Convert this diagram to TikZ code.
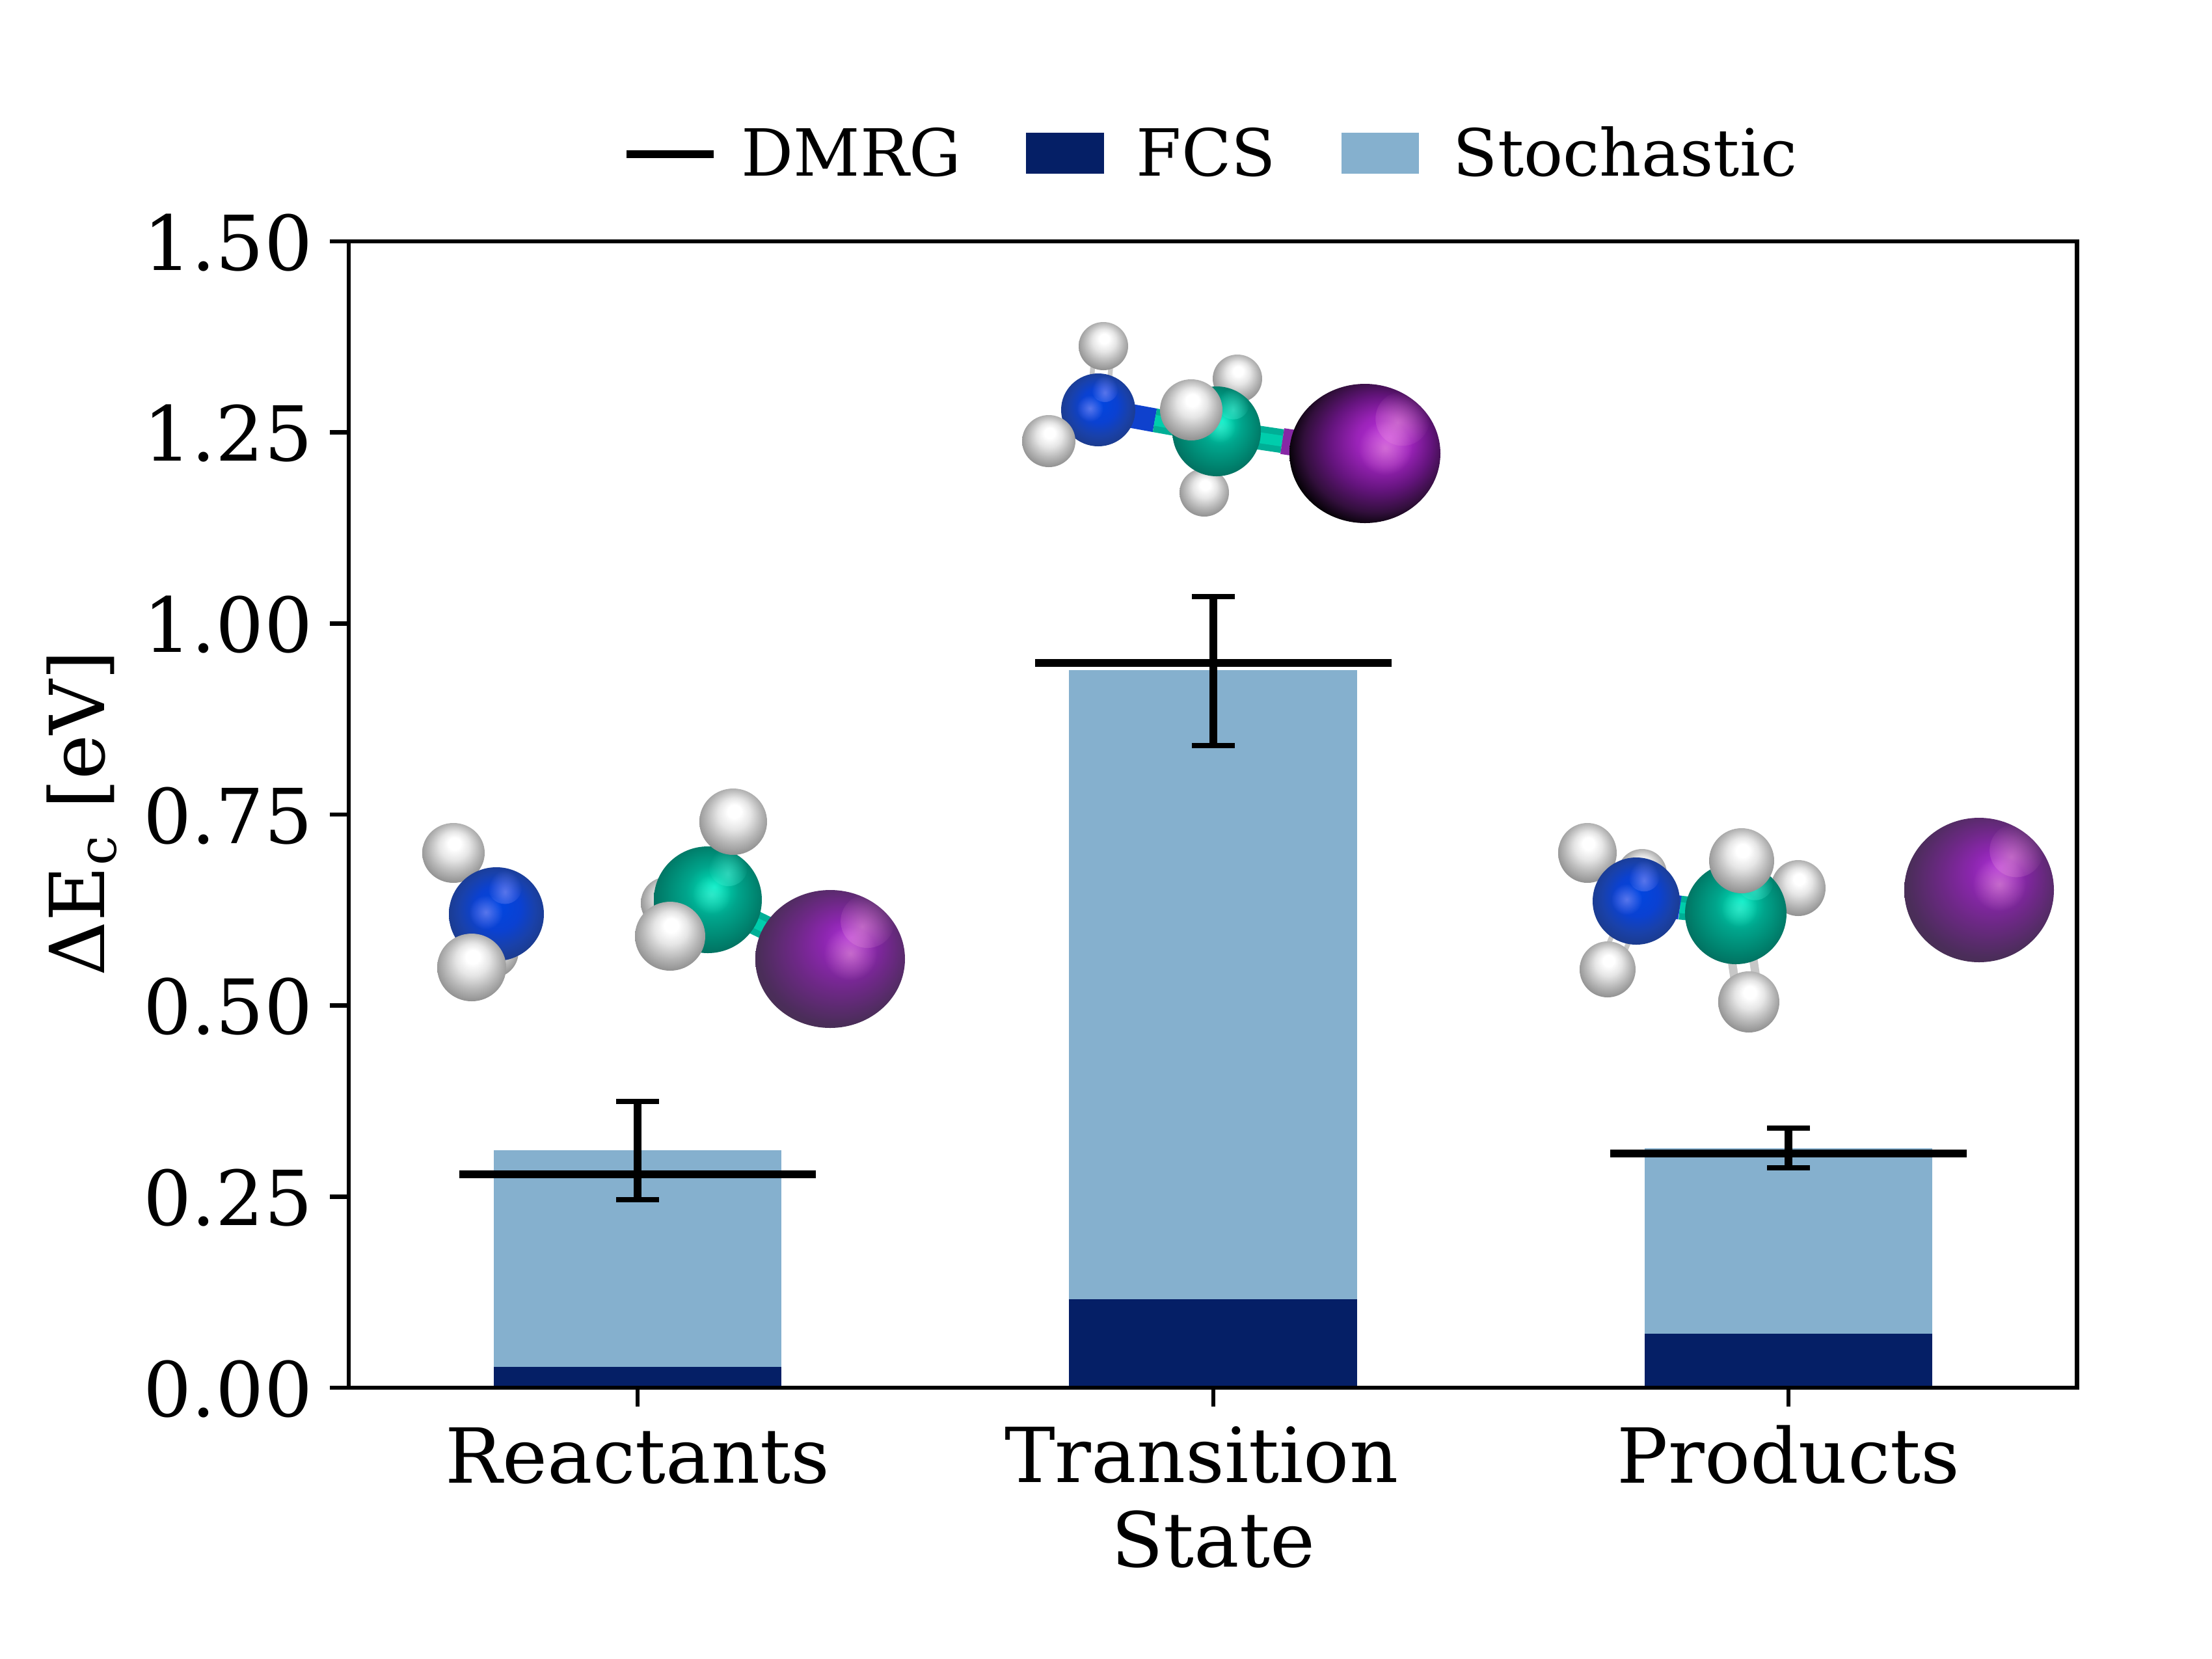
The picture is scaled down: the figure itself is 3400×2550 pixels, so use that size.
\documentclass[tikz,border=0pt]{standalone}
\usepackage{fontspec}
\usetikzlibrary{fadings}
\setmainfont{DejaVu Serif}
\definecolor{fcsnavy}{HTML}{051F66}
\definecolor{stochblue}{HTML}{85B0CE}
\definecolor{nitblue}{RGB}{15,65,205}
\definecolor{cartealgreen}{RGB}{0,175,150}
\definecolor{carglow}{RGB}{0,235,195}
\definecolor{iodpurple}{RGB}{135,40,165}
\pgfdeclareradialshading{atomhyd}{\pgfqpoint{1bp}{9bp}}{color(0bp)=(white);color(5bp)=(white);color(12bp)=(black!10);color(20bp)=(black!28);color(28bp)=(black!45);color(36bp)=(black!52)}
\pgfdeclareradialshading{atomnit}{\pgfqpoint{1bp}{5bp}}{color(0bp)=(rgb,255:red,0;green,70;blue,225);color(12bp)=(rgb,255:red,10;green,65;blue,210);color(20bp)=(rgb,255:red,25;green,65;blue,170);color(28bp)=(rgb,255:red,28;green,58;blue,135);color(35bp)=(rgb,255:red,20;green,35;blue,80)}
\pgfdeclareradialshading{atomcar}{\pgfqpoint{3bp}{6bp}}{color(0bp)=(rgb,255:red,0;green,240;blue,200);color(5bp)=(rgb,255:red,0;green,205;blue,170);color(12bp)=(rgb,255:red,0;green,165;blue,140);color(22bp)=(rgb,255:red,0;green,130;blue,110);color(34bp)=(rgb,255:red,5;green,85;blue,75)}
\pgfdeclareradialshading{atomiod}{\pgfqpoint{7bp}{8bp}}{color(0bp)=(rgb,255:red,175;green,50;blue,215);color(8bp)=(rgb,255:red,140;green,38;blue,175);color(16bp)=(rgb,255:red,110;green,40;blue,135);color(26bp)=(rgb,255:red,75;green,45;blue,90);color(38bp)=(rgb,255:red,60;green,58;blue,62)}
\pgfdeclareradialshading{atomiodts}{\pgfqpoint{8bp}{6bp}}{color(0bp)=(rgb,255:red,190;green,50;blue,225);color(9bp)=(rgb,255:red,155;green,35;blue,185);color(17bp)=(rgb,255:red,100;green,20;blue,125);color(24bp)=(rgb,255:red,50;green,15;blue,60);color(29bp)=(black);color(45bp)=(rgb,255:red,35;green,35;blue,35)}
\tikzfading[name=glow,inner color=transparent!15,middle color=transparent!70,outer color=transparent!100]
\tikzset{
  axisline/.style={line width=0.8bp,black},
  dmrgline/.style={line width=1.5bp,black},
  errstem/.style={line width=1.5bp,black},
  errcap/.style={line width=1bp,black},
  legtext/.style={anchor=base west,inner sep=0pt,font=\fontsize{12bp}{14bp}\selectfont},
  ticklab/.style={inner sep=0pt,font=\fontsize{14bp}{15.5bp}\selectfont},
  bondhyd/.style={line width=4.2bp,black!22,postaction={draw,white,line width=2.4bp}},
  bondnit/.style={line width=4.4bp,nitblue},
  bondcar/.style={line width=4.4bp,cartealgreen,postaction={draw,carglow!50!cartealgreen,line width=2bp}},
  bondiod/.style={line width=4.8bp,iodpurple},
  atomH/.style={shading=atomhyd},
  atomN/.style={shading=atomnit},
  atomC/.style={shading=atomcar},
  atomI/.style={shading=atomiod},
  atomIts/.style={shading=atomiodts},
  glintN/.style={fill=blue!35!white,path fading=glow,fill opacity=0.6},
  glintC/.style={fill=carglow!70!white,path fading=glow,fill opacity=0.7},
  glintI/.style={fill=magenta!30!white,path fading=glow,fill opacity=0.55},
  glintIts/.style={glintI}
}
\newcommand{\hydatom}[3]{\shade[atomH] (#1) ellipse (#2 and #3);}
\newcommand{\shinyatom}[8]{%
    \shade[atom#4] (#1) ellipse (#2 and #3);
    \begin{scope}
        \clip (#1) ellipse (#2 and #3);
        \fill[glint#4] (#1) ++({#5*#2},{-#6*#3}) circle ({.36*#2});
        \fill[glint#4] (#1) ++({#7*#2},{-#8*#3}) circle ({.36*#2});
    \end{scope}}
\newcommand{\nitatom}[3]{\shinyatom{#1}{#2}{#3}{N}{.18}{.58}{-.22}{.04}}
\newcommand{\caratom}[3]{\shinyatom{#1}{#2}{#3}{C}{.38}{.62}{.07}{.1}}
\newcommand{\iodatom}[3]{\shinyatom{#1}{#2}{#3}{I}{.5}{.55}{.27}{.08}}
\begin{document}
\begin{tikzpicture}[x=0.12bp,y=-0.12bp]
    \useasboundingbox (0,0) rectangle (3400,2550);
    %% Stacked bars
    \fill[stochblue] (759,2133) rectangle (1201,1768);
    \fill[fcsnavy] (759,2133) rectangle (1201,2101);
    \fill[stochblue] (1643,2133) rectangle (2086,1030);
    \fill[fcsnavy] (1643,2133) rectangle (2086,1997);
    \fill[stochblue] (2528,2133) rectangle (2970,1765);
    \fill[fcsnavy] (2528,2133) rectangle (2970,2050);
    %% DMRG levels and error bars
    \foreach \xc/\ydm/\ytop/\ybot in {980/1805/1693/1844,1865/1019/917/1146,2749/1773/1734/1795} {
        \draw[dmrgline] (\xc-274,\ydm) -- (\xc+274,\ydm);
        \draw[errstem] (\xc,\ytop) -- (\xc,\ybot);
        \draw[errcap] (\xc-33,\ytop) -- (\xc+33,\ytop);
        \draw[errcap] (\xc-33,\ybot) -- (\xc+33,\ybot);
    }
    %% Reactants molecule
    \foreach \n/\x/\y in {rHa/697/1311,rN/763/1405,rHb/757/1463,rHc/725/1487,rC/1088/1383,rHd/1127/1263,rHe/1025/1388,rHf/1030/1439,rI/1276/1474}
        \coordinate (\n) at (\x,\y);
    \draw[bondcar] (rC) -- (rI);
    \hydatom{rHa}{48}{46}
    \hydatom{rHb}{40}{40}
    \nitatom{rN}{73}{72}
    \hydatom{rHc}{53}{52}
    \hydatom{rHe}{40}{40}
    \iodatom{rI}{115}{106}
    \caratom{rC}{83}{82}
    \hydatom{rHd}{52}{51}
    \hydatom{rHf}{54}{53}
    %% Transition state molecule
    \foreach \n/\x/\y in {tHa/1696/532,tN/1688/630,tHb/1612/678,tHc/1902/582,tC/1870/663,tHd/1831/630,tHe/1851/757,tI/2098/697,tNC/1775/646,tCI/1971/678}
        \coordinate (\n) at (\x,\y);
    \draw[bondhyd] (tHa) -- (tN);
    \draw[bondhyd] (tHb) -- (tN);
    \draw[bondhyd] (tHc) -- (tC);
    \draw[bondhyd] (tHe) -- (tC);
    \draw[bondnit] (tN) -- (tNC);
    \draw[bondcar] (tNC) -- (tC);
    \draw[bondcar] (tC) -- (tCI);
    \draw[bondiod] (tCI) -- (tI);
    \hydatom{tHa}{38}{37}
    \hydatom{tHc}{38}{37}
    \hydatom{tHe}{38}{37}
    \nitatom{tN}{57}{56}
    \hydatom{tHb}{41}{40}
    \caratom{tC}{68}{69}
    \hydatom{tHd}{48}{47}
    \shinyatom{tI}{116}{107}{Its}{.5}{.5}{.27}{.08}
    %% Products molecule
    \foreach \n/\x/\y in {pHa/2440/1311,pHb/2524/1343,pN/2515/1385,pHc/2471/1490,pC/2668/1404,pHd/2677/1323,pHe/2764/1365,pHf/2688/1540,pI/3042/1368,pNC/2582/1395}
        \coordinate (\n) at (\x,\y);
    \draw[bondhyd] (pHa) -- (pN);
    \draw[bondhyd] (pHc) -- (pN);
    \draw[bondhyd] (pHe) -- (pC);
    \draw[bondhyd,line width=5.5bp] (pHf) -- (pC);
    \draw[bondcar] (pNC) -- (pC);
    \draw[bondnit] (pN) -- (pNC);
    \hydatom{pHb}{38}{38}
    \hydatom{pHe}{42}{43}
    \hydatom{pHa}{45}{46}
    \hydatom{pHc}{43}{43}
    \hydatom{pHf}{47}{47}
    \nitatom{pN}{67}{67}
    \caratom{pC}{78}{78}
    \hydatom{pHd}{50}{50}
    \iodatom{pI}{115}{111}
    %% Axes frame and ticks
    \draw[axisline] (536,371) rectangle (3192.5,2133);
    \foreach \lab/\y in {0.00/2133,0.25/1839.3,0.50/1545.7,0.75/1252,1.00/958.3,1.25/664.7,1.50/371} {
        \draw[axisline] (507,\y) -- (536,\y);
        \node[ticklab,anchor=base east] (ytick\lab) at (482,\y+44) {\lab};
    }
    \foreach \xc in {980,1865,2749}
        \draw[axisline] (\xc,2133) -- (\xc,2162);
    \node[ticklab,anchor=base] (reactlab) at (980,2279) {Reactants};
    \node[ticklab,anchor=base,align=center] (translab) at (1865,2408) {Transition\kern4.4bp\\State};
    \node[ticklab,anchor=base] (prodlab) at (2749,2279) {Products};
    \node[ticklab,anchor=base,rotate=90] (ylab) at (161,1250) {ΔE\textsubscript{c} [eV]};
    %% Legend
    \draw[dmrgline] (963,237) -- (1097,237);
    \node[legtext] (legdmrg) at (1138,270) {DMRG};
    \fill[fcsnavy] (1577,204) rectangle (1697,267);
    \node[legtext] (legfcs) at (1745,270) {FCS};
    \fill[stochblue] (2062,204) rectangle (2181,267);
    \node[legtext] (legstoch) at (2232,270) {Stochastic};
\end{tikzpicture}
\end{document}
